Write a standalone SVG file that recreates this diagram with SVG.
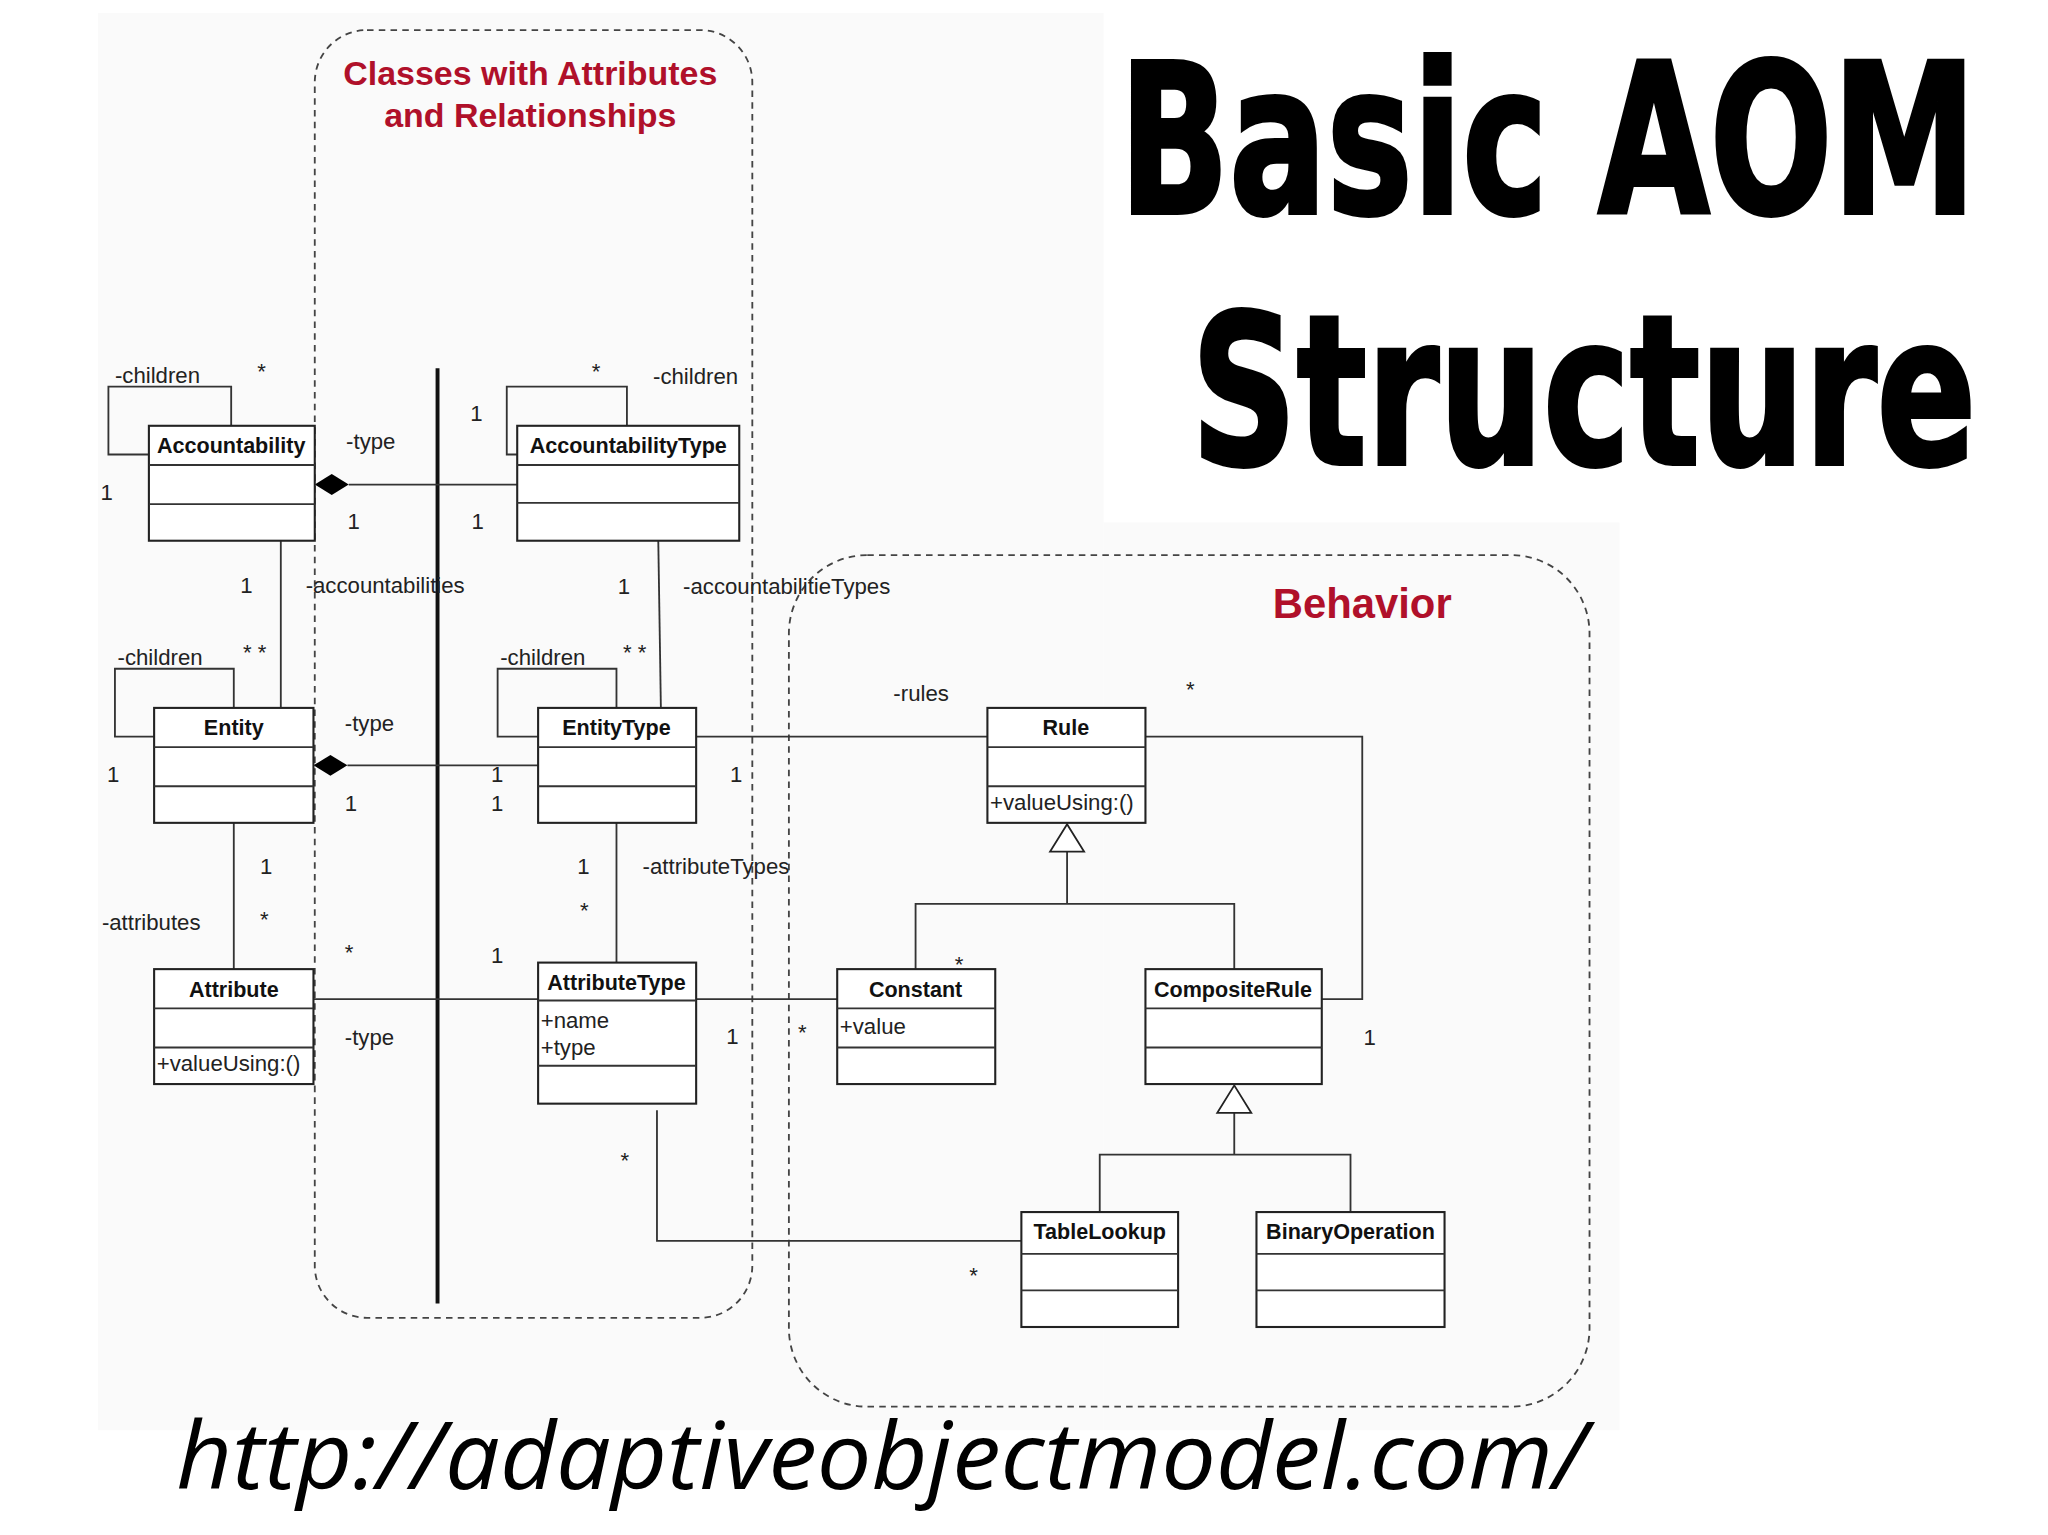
<svg xmlns="http://www.w3.org/2000/svg" width="2048" height="1535" viewBox="0 0 2048 1535">
<style>
.b{fill:#fff;stroke:#222;stroke-width:1.6}
.l{fill:none;stroke:#333;stroke-width:1.4}
.t{font-family:"Liberation Sans",Arial,sans-serif;font-size:17px;fill:#222}
.n{font-family:"Liberation Sans",Arial,sans-serif;font-size:16.5px;font-weight:bold;fill:#111;text-anchor:middle}
.d{fill:none;stroke:#444;stroke-width:1.4;stroke-dasharray:5,4}
.r{font-family:"Liberation Sans",Arial,sans-serif;font-weight:bold;fill:#b0102a;text-anchor:middle}
.h{font-family:"DejaVu Sans Condensed","DejaVu Sans",sans-serif;font-weight:bold;fill:#000;stroke:#000;stroke-width:3}
</style>
<rect width="2048" height="1535" fill="#fff"/>
<g transform="scale(1.3061)">
<rect x="75" y="10" width="770" height="1085" fill="#fafafa"/>
<rect x="845" y="400" width="395" height="695" fill="#fafafa"/>
<g id="regions">
<rect class="d" x="241" y="23" width="335" height="986" rx="40"/>
<rect class="d" x="604" y="425" width="613" height="652" rx="60"/>
<text class="r" x="406" y="65" font-size="26">Classes with Attributes</text>
<text class="r" x="406" y="97" font-size="26">and Relationships</text>
<text class="r" x="1043" y="473" font-size="32">Behavior</text>
</g>
<g id="titles">
<text class="h" x="857" y="163" font-size="160" textLength="656" lengthAdjust="spacingAndGlyphs">Basic AOM</text>
<text class="h" x="912" y="355" font-size="160" textLength="601" lengthAdjust="spacingAndGlyphs">Structure</text>
<text x="135" y="1140" font-family="'Open Sans',sans-serif" font-style="italic" font-size="72" fill="#000" textLength="1080" lengthAdjust="spacingAndGlyphs">http://adaptiveobjectmodel.com/</text>
</g>
<g id="connectors">
<line x1="335" y1="282" x2="335" y2="998" stroke="#111" stroke-width="3"/>
<path class="l" d="M114,348H83V296H177V326"/>
<path class="l" d="M396,348H388V296H480V326"/>
<path class="l" d="M118,564H88V512H179V542"/>
<path class="l" d="M412,564H381V512H472V542"/>
<path class="l" d="M267,371H396"/>
<path d="M241,371L254,363L267,371L254,379Z" fill="#000"/>
<path class="l" d="M266,586H412"/>
<path d="M240,586L253,578L266,586L253,594Z" fill="#000"/>
<path class="l" d="M215,414V542"/>
<path class="l" d="M504,414L506,542"/>
<path class="l" d="M179,630V742"/>
<path class="l" d="M472,630V737"/>
<path class="l" d="M240,765H412"/>
<path class="l" d="M533,765H641"/>
<path class="l" d="M533,564H756"/>
<path class="l" d="M877,564H1043V765H1012"/>
<path class="l" d="M817,652V692M701,742V692H945V742"/>
<path d="M817,631L830,652H804Z" fill="#fff" stroke="#222" stroke-width="1.4"/>
<path class="l" d="M945,852V884M842,928V884H1034V928"/>
<path d="M945,831L958,852H932Z" fill="#fff" stroke="#222" stroke-width="1.4"/>
<path class="l" d="M503,850V950H782"/>
</g>
<g id="labels" class="t">
<text x="88" y="293">-children</text><text x="197" y="290">*</text><text x="77" y="383">1</text>
<text x="453" y="290">*</text><text x="500" y="294">-children</text><text x="360" y="322">1</text>
<text x="90" y="509">-children</text><text x="186" y="505">* *</text><text x="82" y="599">1</text>
<text x="383" y="509">-children</text><text x="477" y="505">* *</text>
<text x="265" y="344">-type</text><text x="266" y="405">1</text><text x="361" y="405">1</text>
<text x="264" y="560">-type</text><text x="264" y="621">1</text><text x="376" y="599">1</text><text x="376" y="621">1</text>
<text x="184" y="454">1</text><text x="234" y="454">-accountabilities</text>
<text x="473" y="455">1</text><text x="523" y="455">-accountabilitieTypes</text>
<text x="199" y="669">1</text><text x="199" y="710">*</text><text x="78" y="712">-attributes</text>
<text x="442" y="669">1</text><text x="444" y="703">*</text><text x="492" y="669">-attributeTypes</text>
<text x="264" y="735">*</text><text x="376" y="737">1</text><text x="264" y="800">-type</text>
<text x="556" y="799">1</text><text x="611" y="796">*</text><text x="731" y="744">*</text>
<text x="684" y="537">-rules</text><text x="559" y="599">1</text><text x="908" y="534">*</text>
<text x="1044" y="800">1</text>
<text x="475" y="894">*</text><text x="742" y="982">*</text>
</g>
<g id="Accountability"><rect class="b" x="114" y="326" width="127" height="88"/><path class="l" d="M114,356H241M114,386H241"/><text class="n" x="177" y="347">Accountability</text></g>
<g id="AccountabilityType"><rect class="b" x="396" y="326" width="170" height="88"/><path class="l" d="M396,356H566M396,385H566"/><text class="n" x="481" y="347">AccountabilityType</text></g>
<g id="Entity"><rect class="b" x="118" y="542" width="122" height="88"/><path class="l" d="M118,572H240M118,602H240"/><text class="n" x="179" y="563">Entity</text></g>
<g id="EntityType"><rect class="b" x="412" y="542" width="121" height="88"/><path class="l" d="M412,572H533M412,602H533"/><text class="n" x="472" y="563">EntityType</text></g>
<g id="Attribute"><rect class="b" x="118" y="742" width="122" height="88"/><path class="l" d="M118,772H240M118,802H240"/><text class="n" x="179" y="763">Attribute</text><text class="t" x="120" y="820">+valueUsing:()</text></g>
<g id="AttributeType"><rect class="b" x="412" y="737" width="121" height="108"/><path class="l" d="M412,766H533M412,816H533"/><text class="n" x="472" y="758">AttributeType</text><text class="t" x="414" y="787">+name</text><text class="t" x="414" y="808">+type</text></g>
<g id="Rule"><rect class="b" x="756" y="542" width="121" height="88"/><path class="l" d="M756,572H877M756,602H877"/><text class="n" x="816" y="563">Rule</text><text class="t" x="758" y="620">+valueUsing:()</text></g>
<g id="Constant"><rect class="b" x="641" y="742" width="121" height="88"/><path class="l" d="M641,772H762M641,802H762"/><text class="n" x="701" y="763">Constant</text><text class="t" x="643" y="792">+value</text></g>
<g id="CompositeRule"><rect class="b" x="877" y="742" width="135" height="88"/><path class="l" d="M877,772H1012M877,802H1012"/><text class="n" x="944" y="763">CompositeRule</text></g>
<g id="TableLookup"><rect class="b" x="782" y="928" width="120" height="88"/><path class="l" d="M782,960H902M782,988H902"/><text class="n" x="842" y="949">TableLookup</text></g>
<g id="BinaryOperation"><rect class="b" x="962" y="928" width="144" height="88"/><path class="l" d="M962,960H1106M962,988H1106"/><text class="n" x="1034" y="949">BinaryOperation</text></g>
</g>
</svg>
